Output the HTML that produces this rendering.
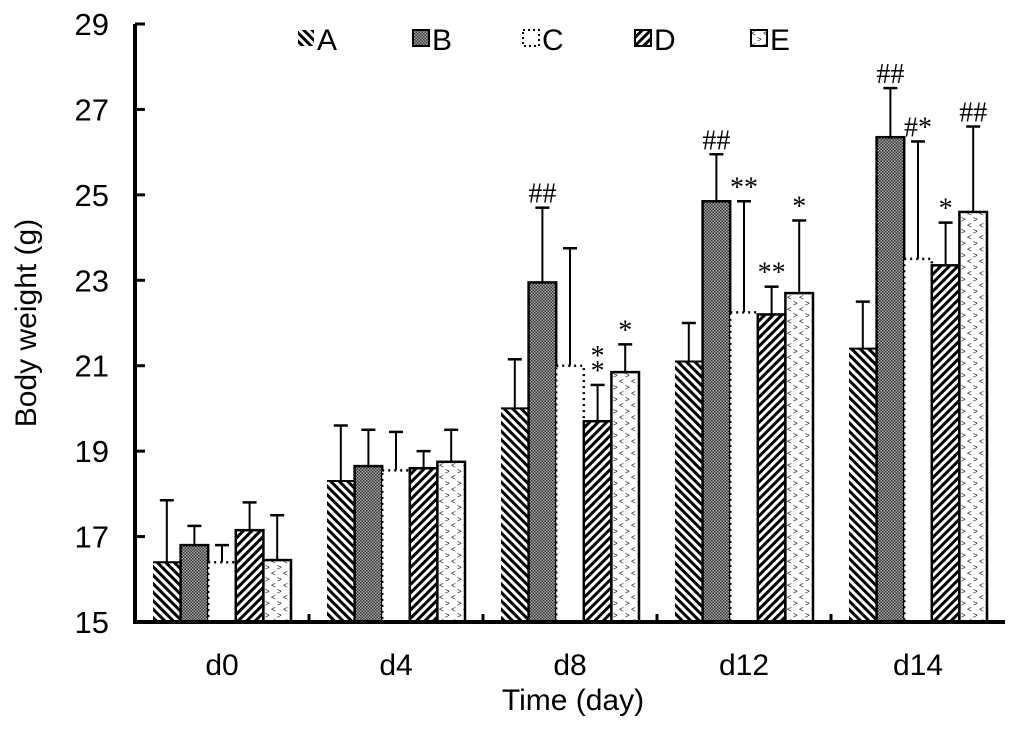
<!DOCTYPE html>
<html><head><meta charset="utf-8"><style>
body{margin:0;background:#fff;}
svg{display:block;font-family:"Liberation Sans",Arial,sans-serif;}
</style></head><body>
<svg id="chart" width="1020" height="741">
<defs>
<pattern id="pA" width="6" height="6" patternUnits="userSpaceOnUse" patternTransform="rotate(-45)"><rect width="6" height="6" fill="#fff"/><rect width="3" height="6" fill="#000"/></pattern>
<pattern id="pB" width="3" height="3" patternUnits="userSpaceOnUse"><rect width="3" height="3" fill="#aaa"/><rect width="1.5" height="1.5" fill="#333"/><rect x="1.5" y="1.5" width="1.5" height="1.5" fill="#333"/></pattern>
<pattern id="pD" width="6" height="6" patternUnits="userSpaceOnUse" patternTransform="rotate(45)"><rect width="6" height="6" fill="#fff"/><rect width="3" height="6" fill="#000"/></pattern>
<pattern id="pE" width="12" height="12" patternUnits="userSpaceOnUse"><rect width="12" height="12" fill="#fff"/><text x="1" y="6" font-size="8" fill="#000">&gt;</text><text x="7" y="12" font-size="8" fill="#000">&lt;</text></pattern>
</defs>
<g id="plot"></g>
</svg>
<script>
const categories=["d0","d4","d8","d12","d14"];
const series=["A","B","C","D","E"];
const valA=[16.4,18.3,20.0,21.1,21.4];
const valB=[16.8,18.65,22.95,24.85,26.35];
const valC=[16.4,18.55,21.0,22.25,23.5];
const valD=[17.15,18.6,19.7,22.2,23.35];
const valE=[16.45,18.75,20.85,22.7,24.6];
const errA=[1.45,1.3,1.15,0.9,1.1];
const errB=[0.45,0.85,1.75,1.1,1.15];
const errC=[0.4,0.9,2.75,2.6,2.75];
const errD=[0.65,0.4,0.85,0.65,1.0];
const errE=[1.05,0.75,0.65,1.7,2.0];
const notesB=["","","##","##","##"];
const notesC=["","","","**","#*"];
const notesD=["","","*\n*","**","*"];
const notesE=["","","*","*","##"];
const yTicks=[15,17,19,21,23,25,27,29];
const vals=[valA,valB,valC,valD,valE],errs=[errA,errB,errC,errD,errE];
const notes=[null,notesB,notesC,notesD,notesE];
const fills=["url(#pA)","url(#pB)","#fff","url(#pD)","url(#pE)"];
const NS="http://www.w3.org/2000/svg";
const g=document.getElementById('plot');
const X0=135,X1=1005,Y0=622,Y1=24,yMin=15,yMax=29,BW=27.6;
const y=v=>Y0-(v-yMin)/(yMax-yMin)*(Y0-Y1);
const gw=(X1-X0)/categories.length;
const xc=i=>X0+gw*(i+0.5);
function el(t,a,txt){const e=document.createElementNS(NS,t);for(const k in a)e.setAttribute(k,a[k]);if(txt!=null)e.textContent=txt;g.appendChild(e);return e;}
categories.forEach((c,i)=>{
  series.forEach((s,j)=>{
    const v=vals[j][i],e=errs[j][i];
    const bx=xc(i)+(j-2.5)*BW, cx=bx+BW/2;
    const eb=el('line',{x1:cx,x2:cx,y1:y(v),y2:y(v+e),stroke:'#000','stroke-width':2});
    
    
    const cap=el('line',{x1:cx-7,x2:cx+7,y1:y(v+e),y2:y(v+e),stroke:'#000','stroke-width':2.5});
    
    
    const r=el('rect',{x:bx,y:y(v),width:BW,height:Y0-y(v),fill:fills[j],stroke:'#000','stroke-width':j==0?0:2.5,'stroke-dasharray':j==2?'2,4':'none'});
    
    
    if(j==0){const t=el('line',{x1:bx,x2:bx+BW,y1:y(v),y2:y(v),stroke:'#000','stroke-width':2});}
    if(notes[j]&&notes[j][i]){
      const lines=notes[j][i].split("\n");
      lines.forEach((ln,k)=>{
        const t=el('text',{x:cx,y:y(v+e)-5-(lines.length-1-k)*15,'text-anchor':'middle','font-size':'28px','font-family':'"Liberation Serif",serif'},ln);
        
        
      });
    }
  });
  const t=el('text',{x:xc(i),y:675,'text-anchor':'middle','font-size':'30px'},c);
  
  
  const tk=el('line',{x1:X0+gw*i,x2:X0+gw*i,y1:Y0,y2:Y0-8,stroke:'#000','stroke-width':3});
  
  
});
yTicks.forEach(v=>{
  const l=el('line',{x1:X0,x2:X0+10,y1:y(v),y2:y(v),stroke:'#000','stroke-width':3});
  
  
  const t=el('text',{x:X0-26,y:y(v)+11,'text-anchor':'end','font-size':'31px'},v);
  
  
});
const ax=el('line',{x1:X0,x2:X0,y1:Y1,y2:Y0+2,stroke:'#000','stroke-width':4});

const bx=el('line',{x1:X0-2,x2:X1,y1:Y0,y2:Y0,stroke:'#000','stroke-width':4});

const xt=el('text',{x:573,y:710,'text-anchor':'middle','font-size':'30px'},'Time (day)');

const yt=el('text',{x:0,y:0,'text-anchor':'middle','font-size':'30px',transform:'translate(36,323) rotate(-90)'},'Body weight (g)');

const lx=[298,413,523,635,751];
series.forEach((s,j)=>{
  const r=el('rect',{x:lx[j],y:30,width:16,height:16,fill:fills[j],stroke:'#000','stroke-width':j==0?0:2,'stroke-dasharray':j==2?'2,3':'none'});
  
  
  const t=el('text',{x:lx[j]+19,y:50,'font-size':'30px'},s);
  
  
});
</script>
</body></html>
